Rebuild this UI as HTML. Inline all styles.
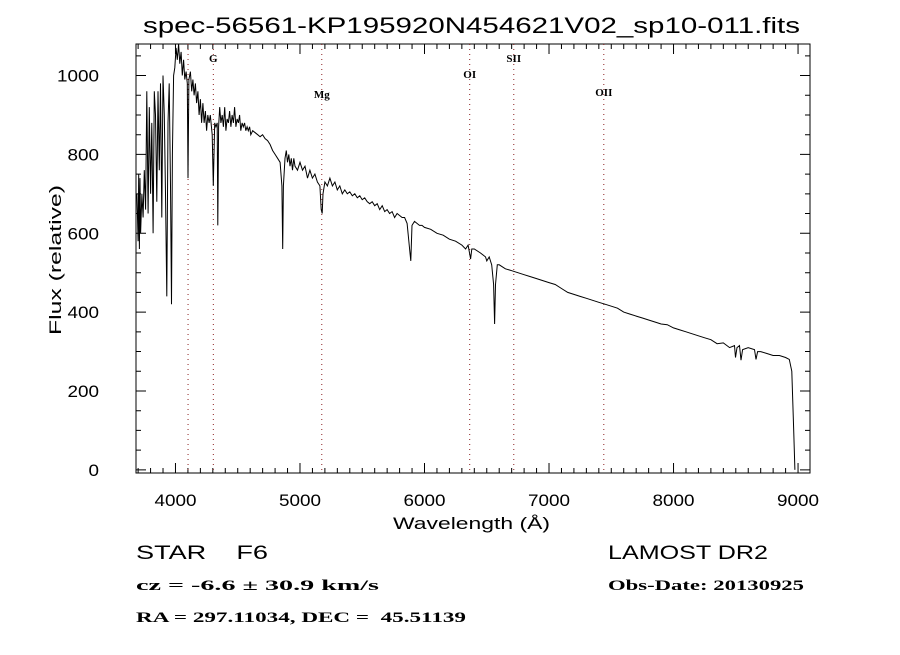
<!DOCTYPE html>
<html><head><meta charset="utf-8"><style>
body{margin:0;background:#fff;}
svg text{font-family:"Liberation Sans",sans-serif;fill:#000;white-space:pre;}
.serif{font-family:"Liberation Serif",serif;}
</style></head><body>
<svg id="chart" width="900" height="650" viewBox="0 0 900 650" xmlns="http://www.w3.org/2000/svg" xml:space="preserve">
<rect width="900" height="650" fill="#fff"/>
<text x="143" y="33" font-size="22" textLength="657" lengthAdjust="spacingAndGlyphs">spec-56561-KP195920N454621V02_sp10-011.fits</text>
<g id="axes"></g>
<g id="lines"></g>
<g id="series"></g>
<text x="393" y="529" font-size="17" textLength="157" lengthAdjust="spacingAndGlyphs">Wavelength (Å)</text>
<text x="0" y="0" font-size="17" text-anchor="middle" textLength="150" lengthAdjust="spacingAndGlyphs" transform="translate(61,260) rotate(-90)">Flux (relative)</text>
<text x="136" y="559" font-size="19" textLength="132" lengthAdjust="spacingAndGlyphs">STAR    F6</text>
<text x="608" y="559" font-size="19" textLength="160" lengthAdjust="spacingAndGlyphs">LAMOST DR2</text>
<text class="serif" x="136" y="590" font-size="15" font-weight="bold" textLength="243" lengthAdjust="spacingAndGlyphs">cz = -6.6 ± 30.9 km/s</text>
<text class="serif" x="608" y="590" font-size="15" font-weight="bold" textLength="196" lengthAdjust="spacingAndGlyphs">Obs-Date: 20130925</text>
<text class="serif" x="136" y="622" font-size="15" font-weight="bold" textLength="330" lengthAdjust="spacingAndGlyphs">RA = 297.11034, DEC =  45.51139</text>
</svg>
<script>
const wave=[3690,3700,3705,3710,3715,3720,3730,3740,3750,3760,3770,3780,3790,3800,3810,3820,3830,3840,3850,3860,3870,3880,3890,3900,3910,3920,3930,3940,3950,3960,3968,3975,3985,3995,4005,4015,4025,4035,4045,4055,4065,4075,4085,4095,4101,4108,4120,4130,4140,4150,4160,4170,4180,4190,4200,4210,4220,4230,4240,4250,4260,4270,4280,4295,4304,4315,4325,4335,4340,4346,4355,4365,4375,4385,4395,4405,4415,4425,4435,4445,4455,4465,4475,4485,4495,4505,4515,4525,4535,4545,4555,4565,4575,4585,4595,4605,4620,4640,4660,4680,4700,4720,4740,4760,4780,4800,4820,4840,4855,4861,4867,4880,4890,4900,4910,4920,4930,4940,4950,4960,4980,5000,5020,5040,5060,5080,5100,5120,5140,5160,5170,5178,5185,5200,5220,5240,5260,5280,5300,5320,5340,5360,5380,5400,5420,5440,5460,5480,5500,5520,5540,5560,5580,5600,5620,5640,5660,5680,5700,5720,5740,5760,5780,5800,5820,5840,5860,5880,5890,5900,5920,5940,5960,5980,6000,6050,6100,6150,6200,6250,6300,6330,6350,6370,6380,6400,6450,6490,6500,6520,6540,6555,6563,6570,6585,6600,6650,6700,6750,6800,6850,6900,6950,7000,7050,7100,7150,7200,7250,7300,7350,7400,7450,7500,7550,7600,7650,7700,7750,7800,7850,7900,7950,8000,8050,8100,8150,8200,8250,8300,8350,8400,8450,8490,8498,8510,8530,8542,8555,8600,8650,8662,8675,8700,8750,8800,8850,8900,8930,8950,8965,8975];
const flux=[700,580,750,560,740,600,700,640,760,660,960,650,920,700,880,600,960,900,680,960,760,980,640,1000,900,700,440,880,980,720,420,800,1000,1020,1070,1040,1080,1030,1060,1000,1040,990,1010,980,740,990,1010,960,990,950,980,930,960,900,940,880,930,880,910,860,900,880,900,850,720,880,870,880,620,870,920,880,900,870,920,860,890,880,910,870,900,880,920,870,890,880,900,860,880,870,880,860,870,860,870,850,860,855,850,845,850,840,835,825,810,800,790,780,720,560,720,790,810,780,800,770,790,760,790,770,760,780,760,770,740,760,740,750,730,720,660,650,700,730,720,740,720,730,710,720,700,710,700,705,695,700,690,695,685,690,680,675,680,670,675,660,670,655,660,650,655,640,650,645,640,640,625,560,530,620,630,625,620,620,615,610,600,595,585,580,570,560,570,535,560,560,550,540,530,540,520,470,370,470,520,520,510,505,500,495,490,485,480,475,470,460,450,445,440,435,430,425,420,415,410,400,395,390,385,380,375,370,368,360,355,350,345,340,335,330,320,322,310,315,285,310,315,278,305,310,305,280,300,300,295,290,290,285,280,250,100,0];
const xTicks=[4000,5000,6000,7000,8000,9000];
const yTicks=[0,200,400,600,800,1000];
const lineWaves=[4101,4304,5175,6363,6717,7440];
const lineNames=["","G","Mg","OI","SII","OII"];
const lineLabelY=[0,62,98,78,62,96];
const X0=136,X1=810,Y0=44,Y1=473,WMIN=3683,WMAX=9096,FMIN=-8,FMAX=1080;
function sx(w){return X0+(w-WMIN)/(WMAX-WMIN)*(X1-X0);}
function sy(f){return Y1-(f-FMIN)/(FMAX-FMIN)*(Y1-Y0);}
const NS="http://www.w3.org/2000/svg";
const axes=document.getElementById('axes');
function mk(tag,attrs,parent){const e=document.createElementNS(NS,tag);for(const k in attrs)e.setAttribute(k,attrs[k]);parent.appendChild(e);return e;}
const frame=mk('rect',{x:X0,y:Y0,width:X1-X0,height:Y1-Y0,fill:'none',stroke:'#000','stroke-width':1},axes);


let d='';
for(let w=3700;w<=9000;w+=100){const x=sx(w);const L=(w%1000===0)?10:5;d+=`M${x} ${Y1}V${Y1-L}M${x} ${Y0}V${Y0+L}`;}
for(let f=0;f<=1050;f+=50){const y=sy(f);const L=(f%200===0)?10:5;d+=`M${X0} ${y}H${X0+L}M${X1} ${y}H${X1-L}`;}
const tk=mk('path',{d:d,stroke:'#000','stroke-width':1,fill:'none'},axes);


xTicks.forEach(v=>{const t=mk('text',{x:sx(v),y:506,'font-size':17,'text-anchor':'middle',textLength:String(v).length*10.5,lengthAdjust:'spacingAndGlyphs'},axes);t.textContent=v;

});
yTicks.forEach(v=>{const t=mk('text',{x:99,y:sy(v)+6,'font-size':17,'text-anchor':'end',textLength:String(v).length*10.5,lengthAdjust:'spacingAndGlyphs'},axes);t.textContent=v;

});
const lg=document.getElementById('lines');
lineWaves.forEach((w,i)=>{const l=mk('line',{x1:sx(w),x2:sx(w),y1:Y0,y2:Y1,stroke:'#8b2020','stroke-width':1,'stroke-dasharray':'1,4'},lg);


if(lineNames[i]){const t=mk('text',{x:sx(w),y:lineLabelY[i],'font-size':11,'text-anchor':'middle','class':'serif','font-weight':'bold'},lg);t.textContent=lineNames[i];

}});
const pts=wave.map((w,i)=>sx(w).toFixed(1)+','+sy(Math.max(FMIN,Math.min(FMAX,flux[i]))).toFixed(1)).join(' ');
const pl=mk('polyline',{points:pts,fill:'none',stroke:'#000','stroke-width':1},document.getElementById('series'));


</script>
</body></html>
